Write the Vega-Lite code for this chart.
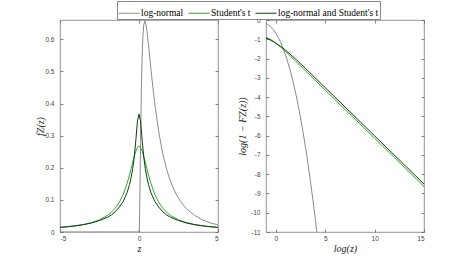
{
  "$schema": "https://vega.github.io/schema/vega-lite/v6.json",
  "padding": {"left": 35, "top": 0, "right": 0, "bottom": 0},
  "background": "white",
  "datasets": {
    "pdf": [
      {"s": "log-normal", "z": -5, "f": 0},
      {"s": "log-normal", "z": 0, "f": 0},
      {"s": "log-normal", "z": 0.02, "f": 0.0095},
      {"s": "log-normal", "z": 0.05, "f": 0.0898},
      {"s": "log-normal", "z": 0.075, "f": 0.1859},
      {"s": "log-normal", "z": 0.1, "f": 0.2816},
      {"s": "log-normal", "z": 0.125, "f": 0.3673},
      {"s": "log-normal", "z": 0.15, "f": 0.4396},
      {"s": "log-normal", "z": 0.2, "f": 0.5463},
      {"s": "log-normal", "z": 0.25, "f": 0.6105},
      {"s": "log-normal", "z": 0.3, "f": 0.6442},
      {"s": "log-normal", "z": 0.368, "f": 0.6577},
      {"s": "log-normal", "z": 0.45, "f": 0.6445},
      {"s": "log-normal", "z": 0.5, "f": 0.6276},
      {"s": "log-normal", "z": 0.6, "f": 0.5836},
      {"s": "log-normal", "z": 0.7, "f": 0.5348},
      {"s": "log-normal", "z": 0.8, "f": 0.4864},
      {"s": "log-normal", "z": 0.9, "f": 0.4408},
      {"s": "log-normal", "z": 1, "f": 0.3989},
      {"s": "log-normal", "z": 1.25, "f": 0.3113},
      {"s": "log-normal", "z": 1.5, "f": 0.245},
      {"s": "log-normal", "z": 1.75, "f": 0.1949},
      {"s": "log-normal", "z": 2, "f": 0.1569},
      {"s": "log-normal", "z": 2.25, "f": 0.1276},
      {"s": "log-normal", "z": 2.5, "f": 0.1049},
      {"s": "log-normal", "z": 2.75, "f": 0.087},
      {"s": "log-normal", "z": 3, "f": 0.0727},
      {"s": "log-normal", "z": 3.5, "f": 0.052},
      {"s": "log-normal", "z": 4, "f": 0.0381},
      {"s": "log-normal", "z": 4.5, "f": 0.0286},
      {"s": "log-normal", "z": 5, "f": 0.0219},

      {"s": "Student's t", "z": -5, "f": 0.014},
      {"s": "Student's t", "z": -4.5, "f": 0.0163},
      {"s": "Student's t", "z": -4, "f": 0.0194},
      {"s": "Student's t", "z": -3.5, "f": 0.0235},
      {"s": "Student's t", "z": -3, "f": 0.0293},
      {"s": "Student's t", "z": -2.5, "f": 0.0379},
      {"s": "Student's t", "z": -2, "f": 0.0514},
      {"s": "Student's t", "z": -1.75, "f": 0.0612},
      {"s": "Student's t", "z": -1.5, "f": 0.0744},
      {"s": "Student's t", "z": -1.25, "f": 0.0922},
      {"s": "Student's t", "z": -1, "f": 0.117},
      {"s": "Student's t", "z": -0.75, "f": 0.152},
      {"s": "Student's t", "z": -0.6, "f": 0.1778},
      {"s": "Student's t", "z": -0.5, "f": 0.197},
      {"s": "Student's t", "z": -0.4, "f": 0.217},
      {"s": "Student's t", "z": -0.3, "f": 0.236},
      {"s": "Student's t", "z": -0.2, "f": 0.252},
      {"s": "Student's t", "z": -0.1, "f": 0.263},
      {"s": "Student's t", "z": 0, "f": 0.267},
      {"s": "Student's t", "z": 0.1, "f": 0.263},
      {"s": "Student's t", "z": 0.2, "f": 0.252},
      {"s": "Student's t", "z": 0.3, "f": 0.236},
      {"s": "Student's t", "z": 0.4, "f": 0.217},
      {"s": "Student's t", "z": 0.5, "f": 0.197},
      {"s": "Student's t", "z": 0.6, "f": 0.1778},
      {"s": "Student's t", "z": 0.75, "f": 0.152},
      {"s": "Student's t", "z": 1, "f": 0.117},
      {"s": "Student's t", "z": 1.25, "f": 0.0922},
      {"s": "Student's t", "z": 1.5, "f": 0.0744},
      {"s": "Student's t", "z": 1.75, "f": 0.0612},
      {"s": "Student's t", "z": 2, "f": 0.0514},
      {"s": "Student's t", "z": 2.5, "f": 0.0379},
      {"s": "Student's t", "z": 3, "f": 0.0293},
      {"s": "Student's t", "z": 3.5, "f": 0.0235},
      {"s": "Student's t", "z": 4, "f": 0.0194},
      {"s": "Student's t", "z": 4.5, "f": 0.0163},
      {"s": "Student's t", "z": 5, "f": 0.014},

      {"s": "log-normal and Student's t", "z": -5, "f": 0.0145},
      {"s": "log-normal and Student's t", "z": -4.5, "f": 0.0166},
      {"s": "log-normal and Student's t", "z": -4, "f": 0.0193},
      {"s": "log-normal and Student's t", "z": -3.5, "f": 0.023},
      {"s": "log-normal and Student's t", "z": -3, "f": 0.0281},
      {"s": "log-normal and Student's t", "z": -2.5, "f": 0.0358},
      {"s": "log-normal and Student's t", "z": -2, "f": 0.0457},
      {"s": "log-normal and Student's t", "z": -1.75, "f": 0.053},
      {"s": "log-normal and Student's t", "z": -1.5, "f": 0.063},
      {"s": "log-normal and Student's t", "z": -1.25, "f": 0.0775},
      {"s": "log-normal and Student's t", "z": -1, "f": 0.095},
      {"s": "log-normal and Student's t", "z": -0.75, "f": 0.123},
      {"s": "log-normal and Student's t", "z": -0.6, "f": 0.148},
      {"s": "log-normal and Student's t", "z": -0.5, "f": 0.169},
      {"s": "log-normal and Student's t", "z": -0.4, "f": 0.197},
      {"s": "log-normal and Student's t", "z": -0.3, "f": 0.234},
      {"s": "log-normal and Student's t", "z": -0.2, "f": 0.285},
      {"s": "log-normal and Student's t", "z": -0.1, "f": 0.345},
      {"s": "log-normal and Student's t", "z": 0, "f": 0.367},
      {"s": "log-normal and Student's t", "z": 0.1, "f": 0.345},
      {"s": "log-normal and Student's t", "z": 0.2, "f": 0.285},
      {"s": "log-normal and Student's t", "z": 0.3, "f": 0.234},
      {"s": "log-normal and Student's t", "z": 0.4, "f": 0.197},
      {"s": "log-normal and Student's t", "z": 0.5, "f": 0.169},
      {"s": "log-normal and Student's t", "z": 0.6, "f": 0.148},
      {"s": "log-normal and Student's t", "z": 0.75, "f": 0.123},
      {"s": "log-normal and Student's t", "z": 1, "f": 0.095},
      {"s": "log-normal and Student's t", "z": 1.25, "f": 0.0775},
      {"s": "log-normal and Student's t", "z": 1.5, "f": 0.063},
      {"s": "log-normal and Student's t", "z": 1.75, "f": 0.053},
      {"s": "log-normal and Student's t", "z": 2, "f": 0.0457},
      {"s": "log-normal and Student's t", "z": 2.5, "f": 0.0358},
      {"s": "log-normal and Student's t", "z": 3, "f": 0.0281},
      {"s": "log-normal and Student's t", "z": 3.5, "f": 0.023},
      {"s": "log-normal and Student's t", "z": 4, "f": 0.0193},
      {"s": "log-normal and Student's t", "z": 4.5, "f": 0.0166},
      {"s": "log-normal and Student's t", "z": 5, "f": 0.0145}
    ],
    "tail": [
      {"s": "log-normal", "x": -1, "y": -0.1728},
      {"s": "log-normal", "x": -0.75, "y": -0.257},
      {"s": "log-normal", "x": -0.5, "y": -0.3689},
      {"s": "log-normal", "x": -0.25, "y": -0.513},
      {"s": "log-normal", "x": 0, "y": -0.6931},
      {"s": "log-normal", "x": 0.25, "y": -0.913},
      {"s": "log-normal", "x": 0.5, "y": -1.176},
      {"s": "log-normal", "x": 0.75, "y": -1.4845},
      {"s": "log-normal", "x": 1, "y": -1.841},
      {"s": "log-normal", "x": 1.25, "y": -2.2476},
      {"s": "log-normal", "x": 1.5, "y": -2.706},
      {"s": "log-normal", "x": 1.75, "y": -3.2173},
      {"s": "log-normal", "x": 2, "y": -3.783},
      {"s": "log-normal", "x": 2.25, "y": -4.4046},
      {"s": "log-normal", "x": 2.5, "y": -5.082},
      {"s": "log-normal", "x": 2.75, "y": -5.8159},
      {"s": "log-normal", "x": 3, "y": -6.608},
      {"s": "log-normal", "x": 3.25, "y": -7.4577},
      {"s": "log-normal", "x": 3.5, "y": -8.366},
      {"s": "log-normal", "x": 3.75, "y": -9.3337},
      {"s": "log-normal", "x": 4, "y": -10.36},
      {"s": "log-normal", "x": 4.25, "y": -11.445},

      {"s": "Student's t", "x": -1, "y": -0.9},
      {"s": "Student's t", "x": -0.75, "y": -0.958},
      {"s": "Student's t", "x": -0.5, "y": -1.026},
      {"s": "Student's t", "x": -0.25, "y": -1.105},
      {"s": "Student's t", "x": 0, "y": -1.196},
      {"s": "Student's t", "x": 0.25, "y": -1.298},
      {"s": "Student's t", "x": 0.5, "y": -1.412},
      {"s": "Student's t", "x": 0.75, "y": -1.527},
      {"s": "Student's t", "x": 1, "y": -1.647},
      {"s": "Student's t", "x": 1.5, "y": -1.891},
      {"s": "Student's t", "x": 2, "y": -2.138},
      {"s": "Student's t", "x": 3, "y": -2.637},
      {"s": "Student's t", "x": 5, "y": -3.637},
      {"s": "Student's t", "x": 10, "y": -6.137},
      {"s": "Student's t", "x": 15, "y": -8.637},

      {"s": "log-normal and Student's t", "x": -1, "y": -0.93},
      {"s": "log-normal and Student's t", "x": -0.5, "y": -1.055},
      {"s": "log-normal and Student's t", "x": 0, "y": -1.205},
      {"s": "log-normal and Student's t", "x": 0.5, "y": -1.38},
      {"s": "log-normal and Student's t", "x": 1, "y": -1.576},
      {"s": "log-normal and Student's t", "x": 1.5, "y": -1.8},
      {"s": "log-normal and Student's t", "x": 2, "y": -2.029},
      {"s": "log-normal and Student's t", "x": 3, "y": -2.512},
      {"s": "log-normal and Student's t", "x": 5, "y": -3.512},
      {"s": "log-normal and Student's t", "x": 10, "y": -6.012},
      {"s": "log-normal and Student's t", "x": 15, "y": -8.512}
    ]
  },
  "spacing": 18,
  "hconcat": [
    {
      "width": 158,
      "height": 212,
      "data": {"name": "pdf"},
      "layer": [
        {
          "mark": {"type": "line", "strokeWidth": 1, "clip": true},
          "encoding": {
            "x": {"field": "z", "type": "quantitative", "scale": {"domain": [-5, 5], "nice": false, "zero": false},
                  "axis": {"values": [-5, 0, 5], "title": "z", "labelExpr": "replace(datum.label, '−', '-')"}},
            "y": {"field": "f", "type": "quantitative", "scale": {"domain": [0, 0.66], "nice": false},
                  "axis": {"values": [0, 0.1, 0.2, 0.3, 0.4, 0.5, 0.6], "format": "~g", "title": "fZ(z)", "titlePadding": -1}},
            "color": {"field": "s", "type": "nominal",
                      "scale": {"domain": ["log-normal", "Student's t", "log-normal and Student's t"], "range": ["#8a8a8a", "#36a336", "#0b3d0b"]},
                      "legend": {"orient": "none", "legendX": 57, "legendY": -19, "direction": "horizontal", "title": null,
                                 "symbolType": "stroke", "symbolSize": 441, "symbolStrokeWidth": 1, "labelFont": "Liberation Serif",
                                 "labelFontSize": 9.5, "labelColor": "black", "labelOffset": 1, "columnPadding": 2, "padding": 1,
                                 "strokeColor": "#888", "fillColor": "white"}}
          }
        },
        {
          "mark": {"type": "line", "strokeOpacity": 0},
          "encoding": {
            "x": {"field": "z", "type": "quantitative", "axis": {"orient": "top", "values": [-5, 0, 5], "labels": false, "title": null}},
            "y": {"field": "f", "type": "quantitative", "axis": {"orient": "right", "values": [0, 0.1, 0.2, 0.3, 0.4, 0.5, 0.6], "labels": false, "title": null}}
          }
        }
      ],
      "resolve": {"axis": {"x": "independent", "y": "independent"}}
    },
    {
      "width": 158,
      "height": 212,
      "data": {"name": "tail"},
      "layer": [
        {
          "mark": {"type": "line", "strokeWidth": 1, "clip": true},
          "encoding": {
            "x": {"field": "x", "type": "quantitative", "scale": {"domain": [-1, 15], "nice": false, "zero": false},
                  "axis": {"values": [0, 5, 10, 15], "title": "log(z)"}},
            "y": {"field": "y", "type": "quantitative", "scale": {"domain": [-11, 0], "nice": false, "zero": false},
                  "axis": {"values": [0, -1, -2, -3, -4, -5, -6, -7, -8, -9, -10, -11], "title": "log(1 − FZ(z))", "labelExpr": "replace(datum.label, '−', '-')"}},
            "color": {"field": "s", "type": "nominal",
                      "scale": {"domain": ["log-normal", "Student's t", "log-normal and Student's t"], "range": ["#8a8a8a", "#36a336", "#0b3d0b"]}}
          }
        },
        {
          "mark": {"type": "line", "strokeOpacity": 0},
          "encoding": {
            "x": {"field": "x", "type": "quantitative", "axis": {"orient": "top", "values": [0, 5, 10, 15], "labels": false, "title": null}},
            "y": {"field": "y", "type": "quantitative", "axis": {"orient": "right", "values": [0, -1, -2, -3, -4, -5, -6, -7, -8, -9, -10, -11], "labels": false, "title": null}}
          }
        }
      ],
      "resolve": {"axis": {"x": "independent", "y": "independent"}}
    }
  ],
  "config": {
    "view": {"stroke": "#777", "strokeWidth": 0.8},
    "axis": {
      "domain": false,
      "grid": false,
      "ticks": true,
      "tickSize": -3,
      "tickColor": "#666",
      "tickWidth": 0.8,
      "labelPadding": 9,
      "labelFont": "Liberation Sans",
      "labelFontSize": 6.5,
      "labelColor": "#444",
      "titleFont": "Liberation Serif",
      "titleFontStyle": "italic",
      "titleFontWeight": "normal",
      "titleFontSize": 10,
      "titleColor": "#222",
      "titlePadding": 2
    },
    "axisX": {"labelPadding": 6, "titlePadding": 2},
    "axisY": {"titlePadding": 3}
  }
}
